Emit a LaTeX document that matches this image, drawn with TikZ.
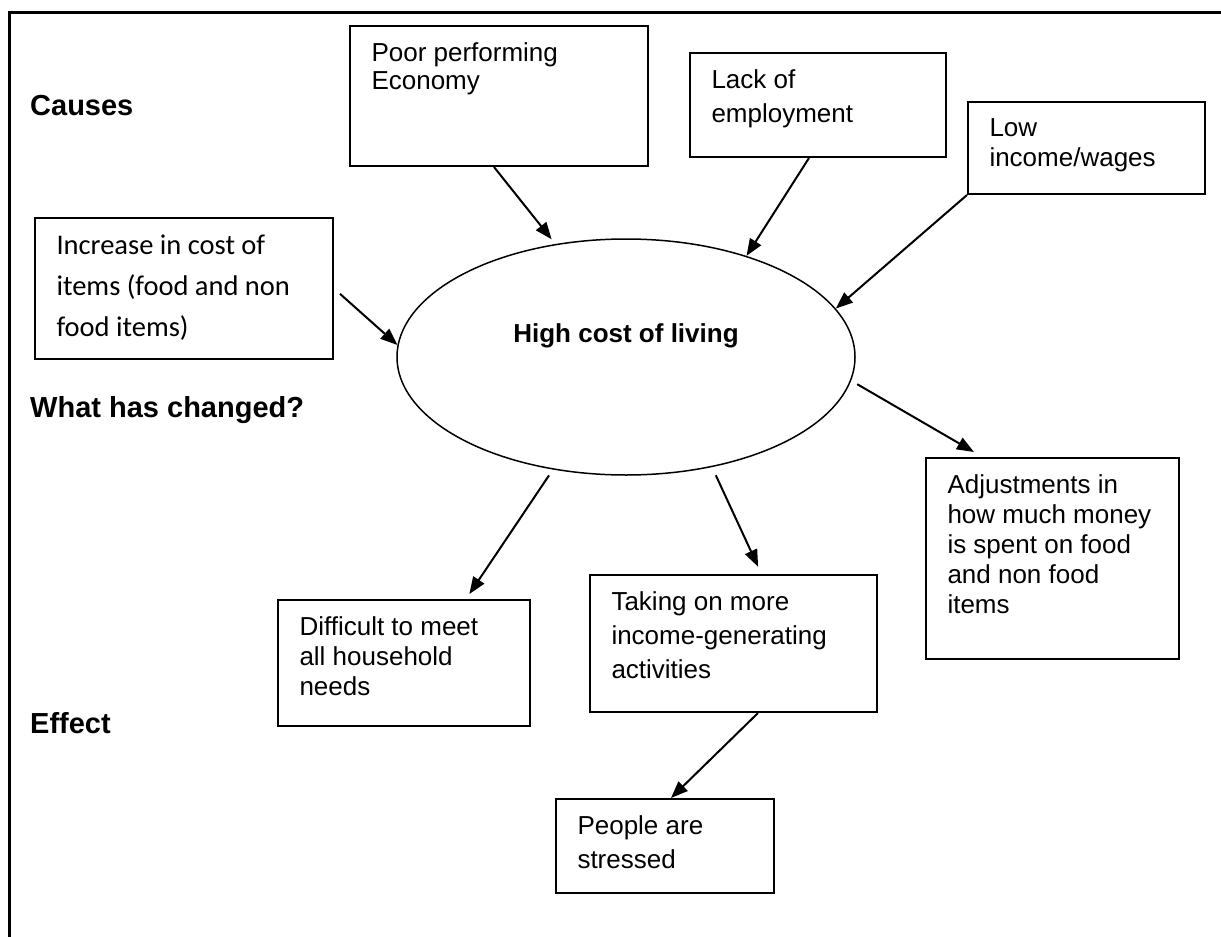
\documentclass[tikz,border=0pt]{standalone}
\usepackage{fontspec}
\setmainfont{Liberation Sans}
\newfontfamily\calibri{Carlito}
\usetikzlibrary{arrows.meta,shapes.geometric}

\newcommand{\boxtext}[3]{\parbox[t][#2][t]{#1}{\raggedright #3}}

\tikzset{
  box/.style={draw, line width=2pt, anchor=north west, inner xsep=21.5pt, inner ysep=17pt,
    font=\fontsize{26}{30}\selectfont},
  head/.style={anchor=base west, inner sep=0pt, font=\fontsize{29}{34}\selectfont\bfseries},
  arr/.style={line width=2pt, -{Triangle[length=17pt,width=13pt]}},
  frame/.style={line width=3pt}
}

\begin{document}
\begin{tikzpicture}[x=1pt,y=-1pt]
\useasboundingbox (0,0) rectangle (1221,937);
\draw[frame] (9,937) -- (9,12) -- (1221,12);

% headings
\node[head] (causes) at (30,115) {Causes};
\node[head] (changed) at (30,417) {What has changed?};
\node[head] (effect) at (30,733) {Effect};

% centre
\node[draw, ellipse, line width=1.5pt, minimum width=458pt, minimum height=236pt] (hcl) at (626,357) {};
\node[anchor=base, font=\fontsize{26}{30}\selectfont\bfseries] (hcltext) at ([yshift=15pt]hcl.center) {High cost of living};

% causes
\node[box, font=\fontsize{26}{28}\selectfont] (poor) at (349,25) {\boxtext{255pt}{106pt}{Poor performing\\Economy}};
\node[box, font=\fontsize{26}{34}\selectfont] (lack) at (689,52) {\boxtext{213pt}{70pt}{Lack of\\employment}};
\node[box] (low) at (967,101) {\boxtext{194pt}{58pt}{Low\\income/wages}};
\node[box, font=\calibri\fontsize{28.5}{41}\selectfont] (incr) at (34,217) {\boxtext{255pt}{107pt}{Increase in cost of\\items (food and non\\food items)}};

% effects
\node[box] (adj) at (925,457) {\boxtext{210pt}{167pt}{Adjustments in\\how much money\\is spent on food\\and non food\\items}};
\node[box] (diff) at (277,599) {\boxtext{209pt}{92pt}{Difficult to meet\\all household\\needs}};
\node[box, font=\fontsize{26}{34}\selectfont] (take) at (589,574) {\boxtext{244pt}{103pt}{Taking on more\\income-generating\\activities}};
\node[box, font=\fontsize{26}{34}\selectfont] (stress) at (555,798) {\boxtext{175pt}{60pt}{People are\\stressed}};

% arrows
\draw[arr, shorten >=6pt] ([xshift=-5pt]poor.south) -- (hcl.122.7);
\draw[arr] ([xshift=-9pt]lack.south) -- (hcl.40.3);
\draw[arr] (low.south west) -- (hcl.13.7);
\draw[arr, shorten <=8pt] (incr.east) -- (hcl.177.5);
\draw[arr, shorten <=7pt, shorten >=10pt] (hcl.-6.4) -- ([xshift=57.6pt]adj.north west);
\draw[arr, shorten <=7pt, shorten >=6pt] (hcl.237.6) -- ([xshift=62pt]diff.north);
\draw[arr, shorten <=9pt, shorten >=8pt] (hcl.-52.6) -- ([xshift=28pt]take.north);
\draw[arr] ([xshift=24.5pt]take.south) -- ([xshift=6pt]stress.north);
\end{tikzpicture}
\end{document}
